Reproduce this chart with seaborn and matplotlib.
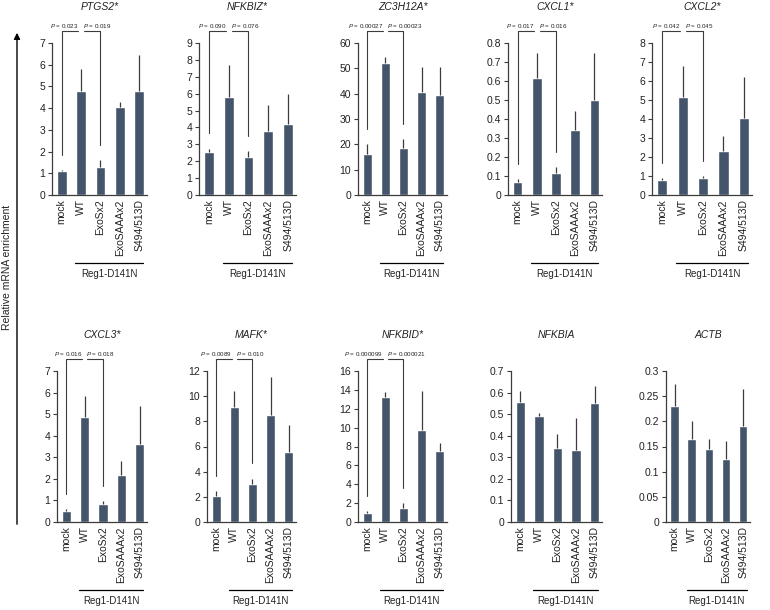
import numpy as np
import matplotlib
matplotlib.use("Agg")
import matplotlib.pyplot as plt
import matplotlib.transforms as mtransforms
from matplotlib.patches import FancyArrowPatch
import seaborn as sns

# samples on the x axis of every panel
samples = ["mock", "WT", "ExoSx2", "ExoSAAAx2", "S494/513D"]
group_label = "Reg1-D141N"

# panel titles (gene names)
genes = ["PTGS2*", "NFKBIZ*", "ZC3H12A*", "CXCL1*", "CXCL2*",
         "CXCL3*", "MAFK*", "NFKBID*", "NFKBIA", "ACTB"]

# means and upper error (SD)
ptgs2_mean = [1.1, 4.8, 1.3, 4.05, 4.8]
ptgs2_sd = [0.05, 1.0, 0.3, 0.25, 1.65]
nfkbiz_mean = [2.55, 5.8, 2.25, 3.8, 4.2]
nfkbiz_sd = [0.2, 1.9, 0.35, 1.55, 1.8]
zc3h12a_mean = [16, 52, 18.5, 40.5, 39.5]
zc3h12a_sd = [4, 2.5, 3.5, 10, 11]
cxcl1_mean = [0.07, 0.615, 0.115, 0.34, 0.5]
cxcl1_sd = [0.015, 0.13, 0.03, 0.1, 0.245]
cxcl2_mean = [0.8, 5.15, 0.9, 2.3, 4.05]
cxcl2_sd = [0.1, 1.65, 0.1, 0.8, 2.15]
cxcl3_mean = [0.5, 4.85, 0.85, 2.2, 3.6]
cxcl3_sd = [0.1, 1.0, 0.13, 0.65, 1.8]
mafk_mean = [2.1, 9.1, 3.0, 8.5, 5.55]
mafk_sd = [0.35, 1.35, 0.45, 3.0, 2.15]
nfkbid_mean = [1.0, 13.2, 1.5, 9.7, 7.55]
nfkbid_sd = [0.2, 0.55, 0.5, 4.2, 0.85]
nfkbia_mean = [0.555, 0.49, 0.345, 0.335, 0.55]
nfkbia_sd = [0.05, 0.015, 0.065, 0.145, 0.08]
actb_mean = [0.23, 0.165, 0.145, 0.125, 0.19]
actb_sd = [0.045, 0.035, 0.02, 0.035, 0.075]

# y axis max and tick step per panel
y_max = [7, 9, 60, 0.8, 8, 7, 12, 16, 0.7, 0.3]
y_step = [1, 1, 10, 0.1, 1, 1, 2, 2, 0.1, 0.05]

# p values (mock vs WT, WT vs ExoSx2)
p_values = [("0.023", "0.019"), ("0.090", "0.076"), ("0.00027", "0.00023"),
            ("0.017", "0.016"), ("0.042", "0.045"), ("0.016", "0.018"),
            ("0.0089", "0.010"), ("0.000099", "0.000021"), None, None]

means = [ptgs2_mean, nfkbiz_mean, zc3h12a_mean, cxcl1_mean, cxcl2_mean,
         cxcl3_mean, mafk_mean, nfkbid_mean, nfkbia_mean, actb_mean]
sds = [ptgs2_sd, nfkbiz_sd, zc3h12a_sd, cxcl1_sd, cxcl2_sd,
       cxcl3_sd, mafk_sd, nfkbid_sd, nfkbia_sd, actb_sd]

sns.set_theme(style="white")
plt.rcParams["font.family"] = ["Liberation Sans", "DejaVu Sans"]
plt.rcParams["mathtext.fontset"] = "custom"
plt.rcParams["mathtext.it"] = "Liberation Sans:italic"
plt.rcParams["mathtext.rm"] = "Liberation Sans"

bar_color = "#44546A"
line_color = "#3c3c3c"

W, H = 770, 610
fig = plt.figure(figsize=(W / 100, H / 100), dpi=100)

# axes frames in pixels: (left, right) per column, (top, bottom) per row
lefts = [[52, 199, 358, 508, 652], [57, 207, 358, 511, 666]]
rights = [[147, 296, 447, 602, 752], [147, 296, 447, 602, 750]]
tops = [43, 371]
bottoms = [195, 522]

for i, gene in enumerate(genes):
    r, c = divmod(i, 5)
    l, rr = lefts[r][c], rights[r][c]
    t, b = tops[r], bottoms[r]
    ax = fig.add_axes([l / W, 1 - b / H, (rr - l) / W, (b - t) / H])

    m = np.array(means[i])
    s = np.array(sds[i])
    sns.barplot(x=samples, y=m, color=bar_color, width=0.5, errorbar=None,
                saturation=1, ax=ax)
    x = np.arange(len(samples))
    ax.vlines(x, m, m + s, color=line_color, lw=0.9, zorder=3)

    ymax = y_max[i]
    ax.set_ylim(0, ymax)
    ax.set_xlim(-0.5, 4.4)
    ticks = np.round(np.arange(0, ymax + y_step[i] / 2, y_step[i]), 3)
    ax.set_yticks(ticks)
    ax.set_yticklabels([f"{v:g}" for v in ticks], fontsize=7.5, color="#222222")
    ax.tick_params(axis="y", direction="out", length=3, width=0.8,
                   color=line_color, pad=2, left=True)
    ax.tick_params(axis="x", length=0, rotation=90, labelsize=7.5,
                   labelcolor="#222222", pad=3)
    ax.set_xlabel("")
    ax.set_ylabel("")
    for side in ["top", "right"]:
        ax.spines[side].set_visible(False)
    for side in ["left", "bottom"]:
        ax.spines[side].set_color(line_color)
        ax.spines[side].set_linewidth(0.9)

    ax.text(0.5, 1.24, gene, transform=ax.transAxes, ha="center", va="center",
            fontsize=7.5, style="italic", color="#222222")

    # group line under the rotated labels
    trans = mtransforms.blended_transform_factory(ax.transData, ax.transAxes)
    ax.plot([0.7, 4.2], [-0.45, -0.45], transform=trans, clip_on=False,
            color="black", lw=0.9)
    ax.text(2.45, -0.49, group_label, transform=trans, ha="center", va="top",
            fontsize=7, color="#222222")

    # significance brackets
    if p_values[i] is not None:
        top_y = 1.08 * ymax
        foot0 = m[0] + s[0] + 0.1 * ymax
        foot2 = m[2] + s[2] + 0.1 * ymax
        ax.plot([0, 0, 0.85], [foot0, top_y, top_y], color=line_color,
                lw=0.8, clip_on=False)
        ax.plot([1.15, 2, 2], [top_y, top_y, foot2], color=line_color,
                lw=0.8, clip_on=False)
        p1, p2 = p_values[i]
        ax.text(0.9, 1.115 * ymax, f"$P$ = {p1}", ha="right", va="center",
                fontsize=4.5, color="#222222")
        ax.text(1.1, 1.115 * ymax, f"$P$ = {p2}", ha="left", va="center",
                fontsize=4.5, color="#222222")

# shared y label with arrow
arrow = FancyArrowPatch((17 / W, 1 - 527 / H), (17 / W, 1 - 30 / H),
                        transform=fig.transFigure, arrowstyle="-|>",
                        mutation_scale=9, lw=1, color="black")
fig.patches.append(arrow)
fig.text(7 / W, 1 - 267 / H, "Relative mRNA enrichment", rotation=90,
         ha="center", va="center", fontsize=7.5, color="#222222")

fig.savefig("out.png", dpi=100)
